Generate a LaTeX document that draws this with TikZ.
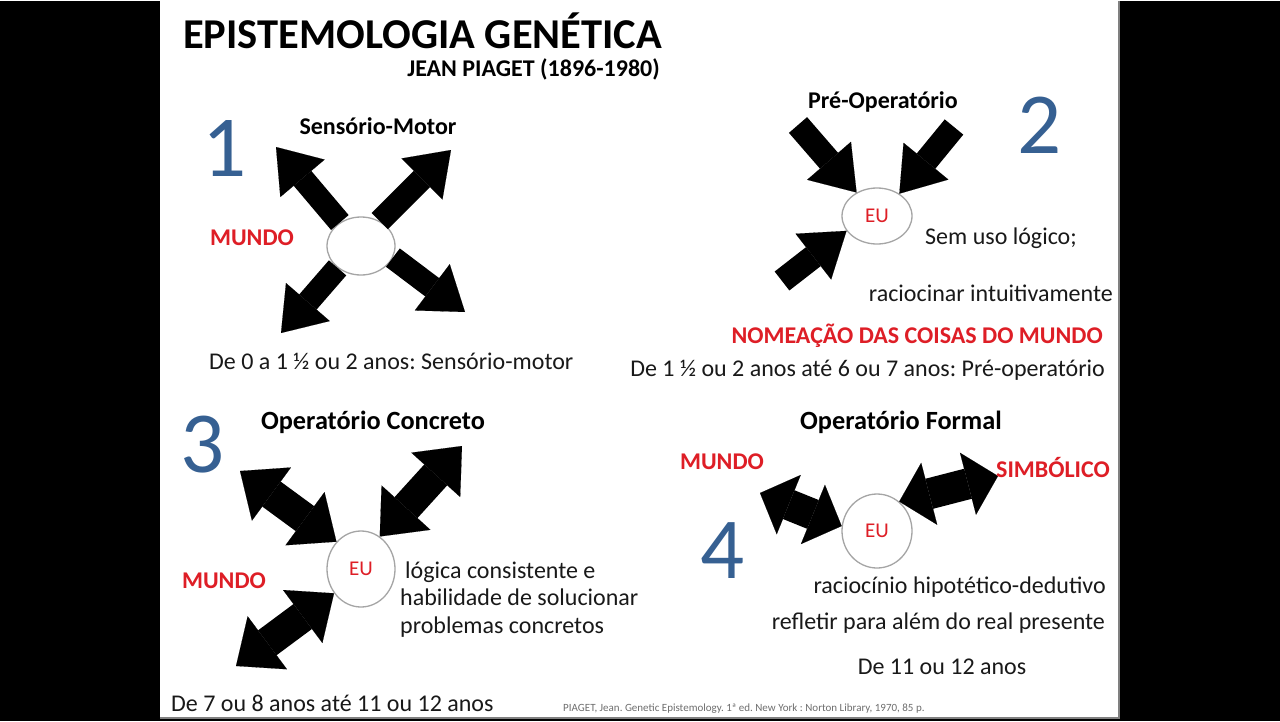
\documentclass[tikz,border=0pt]{standalone}
\usepackage{fontspec}
\setmainfont{Carlito}
\usetikzlibrary{arrows.meta,shapes.geometric}
\definecolor{numblue}{RGB}{54,96,146}
\definecolor{mred}{RGB}{222,30,38}
\definecolor{ringgray}{RGB}{165,165,165}
\definecolor{ink}{RGB}{25,25,25}
\definecolor{refgray}{RGB}{110,110,110}
\begin{document}
\frenchspacing
\begin{tikzpicture}[x=1pt,y=-1pt,
  txt/.style={inner sep=0pt, text=ink, font=\fontsize{24}{28}\selectfont},
  hd/.style={inner sep=0pt, text=black, font=\fontsize{24}{28}\selectfont\bfseries},
  hdb/.style={inner sep=0pt, text=black, font=\fontsize{26.3}{30}\selectfont\bfseries},
  redlbl/.style={inner sep=0pt, text=mred, font=\fontsize{24}{28}\selectfont\bfseries},
  num/.style={inner sep=0pt, text=numblue, font=\fontsize{87}{92}\selectfont},
  ring/.style={ellipse, draw=ringgray, line width=1.3pt, fill=white, inner sep=0pt,
    text=mred, font=\fontsize{21}{24}\selectfont},
  outarrow/.style={draw=black, line width=23pt,
    -{Triangle[width=58pt,length=41pt,line width=0.1pt]}},
  inarrow/.style={draw=black, line width=24pt,
    -{Triangle[width=58pt,length=42pt,line width=0.1pt]}},
  dblarrow/.style={draw=black, line width=31pt,
    {Triangle[width=66pt,length=39pt,line width=0.1pt]}-{Triangle[width=66pt,length=39pt,line width=0.1pt]}},
  dblshort/.style={draw=black, line width=31pt,
    {Triangle[width=64pt,length=31pt,line width=0.1pt]}-{Triangle[width=64pt,length=31pt,line width=0.1pt]}},
]
% slide background
\fill[black] (0,0) rectangle (1280,720);
\fill[white] (160,0) rectangle (1118,716);
\draw[gray, line width=2pt] (1119,0) -- (1119,717) -- (160,717);

% title
\node[inner sep=0pt, anchor=base west, font=\fontsize{42.5}{48}\selectfont\bfseries] (title) at (183,47) {EPISTEMOLOGIA GENÉTICA};
\node[inner sep=0pt, anchor=base east, font=\fontsize{24}{28}\selectfont\bfseries] (sub) at (660,75) {JEAN PIAGET (1896-1980)};

% ---------- panel 1 ----------
\node[ring, minimum width=68pt, minimum height=58pt] (c1) at (361,245) {};
\coordinate (t1a) at (276,146);
\coordinate (t1b) at (451,149);
\coordinate (t1c) at (281,332);
\coordinate (t1d) at (465,311);
\draw[outarrow] (c1.132) -- (t1a);
\draw[outarrow] (c1.53) -- (t1b);
\draw[outarrow] (c1.223) -- (t1c);
\draw[outarrow] (c1.340) -- (t1d);
\node[num, anchor=base] (n1) at (225,175) {1};
\node[hd, anchor=base] (h1) at (378,133) {Sensório-Motor};
\node[redlbl, anchor=base] (m1) at (252,244) {MUNDO};
\node[txt, anchor=base west] (a1) at (209,368) {De 0 a 1 ½ ou 2 anos: Sensório-motor};

% ---------- panel 2 ----------
\node[ring, minimum width=70pt, minimum height=56pt] (c2) at (877,215) {EU};
\coordinate (t2a) at (798,124);
\coordinate (t2b) at (954,126);
\coordinate (t2c) at (782,280);
\draw[inarrow] (t2a) -- (c2.131);
\draw[inarrow] (t2b) -- (c2.45);
\draw[inarrow] (t2c) -- (c2.206);
\node[num, anchor=base] (n2) at (1040,152) {2};
\node[hd, anchor=base] (h2) at (883,107) {Pré-Operatório};
\node[txt, anchor=base west] (s2a) at (925,243) {Sem uso lógico;};
\node[txt, anchor=base east] (s2b) at (1113,300) {raciocinar intuitivamente};
\node[redlbl, anchor=base east] (r2) at (1103,342) {NOMEAÇÃO DAS COISAS DO MUNDO};
\node[txt, anchor=base east] (a2) at (1105,375) {De 1 ½ ou 2 anos até 6 ou 7 anos: Pré-operatório};

% ---------- panel 3 ----------
\node[ring, minimum width=68pt, minimum height=76pt] (c3) at (361,568) {EU};
\coordinate (t3a) at (240,470);
\coordinate (t3b) at (462,445);
\coordinate (t3c) at (236,665);
\draw[dblarrow] (t3a) -- (c3.132);
\draw[dblarrow] (t3b) -- (c3.60);
\draw[dblarrow] (t3c) -- (c3.222);
\node[num, anchor=base] (n3) at (203,471) {3};
\node[hdb, anchor=base] (h3) at (373,428) {Operatório Concreto};
\node[redlbl, anchor=base] (m3) at (224,587) {MUNDO};
\node[txt, anchor=base west] (s3a) at (405,577) {lógica consistente e};
\node[txt, anchor=base west] (s3b) at (400,604) {habilidade de solucionar};
\node[txt, anchor=base west] (s3c) at (400,632) {problemas concretos};
\node[txt, anchor=base west] (a3) at (171,710) {De 7 ou 8 anos até 11 ou 12 anos};

% ---------- panel 4 ----------
\node[ring, minimum width=70pt, minimum height=74pt] (c4) at (877,530) {EU};
\coordinate (t4a) at (760,492);
\coordinate (t4b) at (998,475);
\draw[dblshort] (t4a) -- (c4.172);
\draw[dblshort] (t4b) -- (c4.53);
\node[num, anchor=base] (n4) at (723,577) {4};
\node[hdb, anchor=base] (h4) at (901,428) {Operatório Formal};
\node[redlbl, anchor=base] (m4) at (722,468) {MUNDO};
\node[redlbl, anchor=base] (sy4) at (1053,476) {SIMBÓLICO};
\node[txt, anchor=base east] (s4a) at (1106,592) {raciocínio hipotético-dedutivo};
\node[txt, anchor=base east] (s4b) at (1105,628) {refletir para além do real presente};
\node[txt, anchor=base] (a4) at (942,673) {De 11 ou 12 anos};

% reference
\node[inner sep=0pt, anchor=base west, text=refgray, font=\fontsize{11}{13}\selectfont] (ref) at (563,710) {PIAGET, Jean. Genetic Epistemology. 1ª ed. New York : Norton Library, 1970, 85 p.};
\end{tikzpicture}
\end{document}
